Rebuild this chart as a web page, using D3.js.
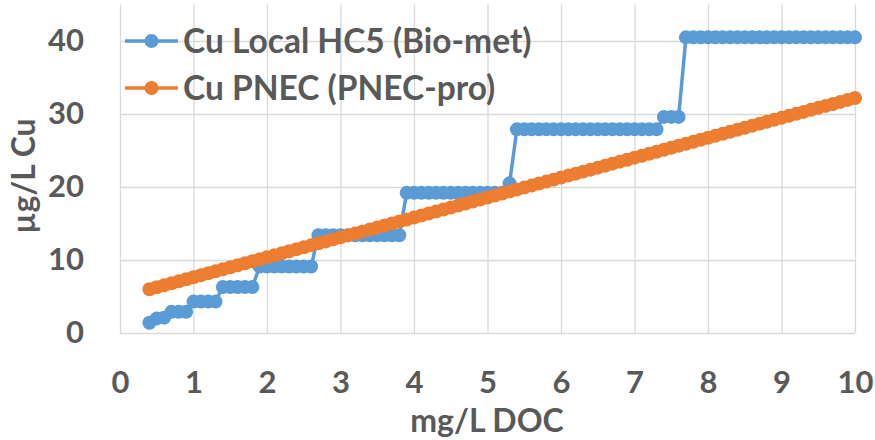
<!DOCTYPE html>
<meta charset="utf-8">
<style>
  body { margin: 0; background: #fff; }
  text { font-family: Lato, "Open Sans", sans-serif; font-weight: bold; fill: #595959; }
  .grid line { stroke: #d9d9d9; stroke-width: 1.3; }
  .grid path { display: none; }
  .axis path { display: none; }
</style>
<body>
<svg width="875" height="440"></svg>
<script src="https://cdn.jsdelivr.net/npm/d3@7"></script>
<script>
// mg/L DOC, one point every 0.1
const doc = [
  0.4, 0.5, 0.6, 0.7, 0.8, 0.9, 1.0, 1.1, 1.2, 1.3, 1.4, 1.5, 1.6, 1.7, 1.8, 1.9,
  2.0, 2.1, 2.2, 2.3, 2.4, 2.5, 2.6, 2.7, 2.8, 2.9, 3.0, 3.1, 3.2, 3.3, 3.4, 3.5,
  3.6, 3.7, 3.8, 3.9, 4.0, 4.1, 4.2, 4.3, 4.4, 4.5, 4.6, 4.7, 4.8, 4.9, 5.0, 5.1,
  5.2, 5.3, 5.4, 5.5, 5.6, 5.7, 5.8, 5.9, 6.0, 6.1, 6.2, 6.3, 6.4, 6.5, 6.6, 6.7,
  6.8, 6.9, 7.0, 7.1, 7.2, 7.3, 7.4, 7.5, 7.6, 7.7, 7.8, 7.9, 8.0, 8.1, 8.2, 8.3,
  8.4, 8.5, 8.6, 8.7, 8.8, 8.9, 9.0, 9.1, 9.2, 9.3, 9.4, 9.5, 9.6, 9.7, 9.8, 9.9,
  10.0
];

// Cu Local HC5 (Bio-met), µg/L
const hc5 = [
  1.4, 2.0, 2.1, 2.9, 2.9, 2.9, 4.3, 4.3, 4.3, 4.3, 6.3, 6.3, 6.3, 6.3, 6.3, 9.1,
  9.1, 9.1, 9.1, 9.1, 9.1, 9.1, 9.1, 13.4, 13.4, 13.4, 13.4, 13.4, 13.4, 13.4, 13.4, 13.4,
  13.4, 13.4, 13.4, 19.2, 19.2, 19.2, 19.2, 19.2, 19.2, 19.2, 19.2, 19.2, 19.2, 19.2, 19.2, 19.2,
  19.2, 20.5, 27.9, 27.9, 27.9, 27.9, 27.9, 27.9, 27.9, 27.9, 27.9, 27.9, 27.9, 27.9, 27.9, 27.9,
  27.9, 27.9, 27.9, 27.9, 27.9, 27.9, 29.6, 29.6, 29.6, 40.5, 40.5, 40.5, 40.5, 40.5, 40.5, 40.5,
  40.5, 40.5, 40.5, 40.5, 40.5, 40.5, 40.5, 40.5, 40.5, 40.5, 40.5, 40.5, 40.5, 40.5, 40.5, 40.5,
  40.5
];

// Cu PNEC (PNEC-pro), µg/L
const pnec = [
  6.00, 6.27, 6.55, 6.82, 7.09, 7.36, 7.64, 7.91, 8.18, 8.46, 8.73, 9.00, 9.28, 9.55, 9.82, 10.09,
  10.37, 10.64, 10.91, 11.19, 11.46, 11.73, 12.01, 12.28, 12.55, 12.82, 13.10, 13.37, 13.64, 13.92, 14.19, 14.46,
  14.73, 15.01, 15.28, 15.55, 15.83, 16.10, 16.37, 16.65, 16.92, 17.19, 17.46, 17.74, 18.01, 18.28, 18.56, 18.83,
  19.10, 19.38, 19.65, 19.92, 20.19, 20.47, 20.74, 21.01, 21.29, 21.56, 21.83, 22.10, 22.38, 22.65, 22.92, 23.20,
  23.47, 23.74, 24.02, 24.29, 24.56, 24.83, 25.11, 25.38, 25.65, 25.93, 26.20, 26.47, 26.75, 27.02, 27.29, 27.56,
  27.84, 28.11, 28.38, 28.66, 28.93, 29.20, 29.47, 29.75, 30.02, 30.29, 30.57, 30.84, 31.11, 31.38, 31.66, 31.93,
  32.20
];

const seriesNames = ["Cu Local HC5 (Bio-met)", "Cu PNEC (PNEC-pro)"];
const seriesColors = ["#5b9bd5", "#ed7d31"];
const xTicks = [0, 1, 2, 3, 4, 5, 6, 7, 8, 9, 10];
const yTicks = [0, 10, 20, 30, 40];
const xTitle = "mg/L DOC";
const yTitle = "µg/L Cu";

const svg = d3.select("svg");
const plot = { left: 120, right: 855, top: 4.5, bottom: 333 };

const x = d3.scaleLinear().domain([0, 10]).range([plot.left, plot.right]);
const y = d3.scaleLinear().domain([0, 45]).range([plot.bottom, plot.top]);

// gridlines
svg.append("g")
    .attr("class", "grid")
    .attr("transform", `translate(0,${plot.bottom})`)
    .call(d3.axisBottom(x).tickValues(xTicks).tickSize(-(plot.bottom - plot.top)).tickFormat(""));

svg.append("g")
    .attr("class", "grid")
    .attr("transform", `translate(${plot.left},0)`)
    .call(d3.axisLeft(y).tickValues(yTicks).tickSize(-(plot.right - plot.left)).tickFormat(""));

// tick labels
svg.append("g")
    .attr("class", "axis")
    .attr("transform", `translate(0,${plot.bottom})`)
    .call(d3.axisBottom(x).tickValues(xTicks).tickSize(0).tickPadding(38));

svg.append("g")
    .attr("class", "axis")
    .attr("transform", `translate(${plot.left},0)`)
    .call(d3.axisLeft(y).tickValues(yTicks).tickSize(0).tickPadding(36));

svg.selectAll(".axis").attr("font-family", null).attr("font-size", null);
svg.selectAll(".axis text").style("font-size", "31px").attr("fill", null);

// axis titles
svg.append("text")
    .attr("x", 487)
    .attr("y", 432)
    .attr("text-anchor", "middle")
    .style("font-size", "32px")
    .text(xTitle);

svg.append("text")
    .attr("transform", "translate(35,176) rotate(-90)")
    .attr("text-anchor", "middle")
    .style("font-size", "32px")
    .text(yTitle);

// series
const series = [hc5, pnec];
const line = d3.line().x(d => x(d[0])).y(d => y(d[1]));

series.forEach((vals, i) => {
  const pts = doc.map((d, j) => [d, vals[j]]);
  const g = svg.append("g");
  g.append("path")
      .datum(pts)
      .attr("fill", "none")
      .attr("stroke", seriesColors[i])
      .attr("stroke-width", 3.5)
      .attr("d", line);
  g.selectAll("circle")
    .data(pts)
    .enter().append("circle")
      .attr("cx", d => x(d[0]))
      .attr("cy", d => y(d[1]))
      .attr("r", 7)
      .attr("fill", seriesColors[i]);
});

// legend
const legend = svg.append("g");
seriesNames.forEach((name, i) => {
  const ly = 41 + i * 47;
  legend.append("line")
      .attr("x1", 125).attr("x2", 178)
      .attr("y1", ly).attr("y2", ly)
      .attr("stroke", seriesColors[i])
      .attr("stroke-width", 3.5);
  legend.append("circle")
      .attr("cx", 151.5).attr("cy", ly)
      .attr("r", 7)
      .attr("fill", seriesColors[i]);
  legend.append("text")
      .attr("x", 183)
      .attr("y", ly)
      .attr("dy", "0.36em")
      .style("font-size", "33.5px")
      .text(name);
});
</script>
</body>
